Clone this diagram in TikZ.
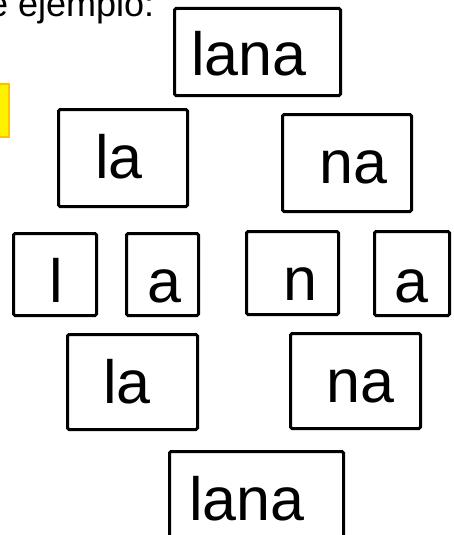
\documentclass[tikz,border=0pt]{standalone}
\usepackage{fontspec}
\setmainfont{Liberation Sans}
\definecolor{boxorange}{HTML}{FFC000}
\begin{document}
\begin{tikzpicture}[x=1pt,y=-1pt,
  wbox/.style={draw=black,line width=3pt,rounded corners=1.5pt,inner sep=0pt},
  bigtxt/.style={anchor=base west,inner sep=0pt,font=\fontsize{61}{64}\selectfont},
  toptxt/.style={anchor=base west,inner sep=0pt,font=\fontsize{36}{40}\selectfont}]
\useasboundingbox (0,0) rectangle (453,535);
% header text (partly cut off, as in the reference)
\node[toptxt] (hdr) at (-12,17) {e ejemplo:};
% yellow box at left edge (partly cut off)
\node[fill=yellow,draw=boxorange,line width=2pt,inner sep=0pt,minimum width=20pt,minimum height=53pt] (ybox) at (-1,110.5) {};
% boxes
\node[wbox,minimum width=166pt,minimum height=87pt] (b1) at (257.5,52) {};
\node[wbox,minimum width=129pt,minimum height=97pt] (b2) at (123,158) {};
\node[wbox,minimum width=129pt,minimum height=97pt] (b3) at (347,163) {};
\node[wbox,minimum width=83pt,minimum height=82pt] (b4) at (55,274.5) {};
\node[wbox,minimum width=72pt,minimum height=82pt] (b5) at (162.5,274.5) {};
\node[wbox,minimum width=92pt,minimum height=83pt] (b6) at (292.5,273) {};
\node[wbox,minimum width=75pt,minimum height=84pt] (b7) at (412,273.5) {};
\node[wbox,minimum width=130pt,minimum height=95pt] (b8) at (132.5,382) {};
\node[wbox,minimum width=130pt,minimum height=95pt] (b9) at (355.5,381) {};
\node[wbox,minimum width=174pt,minimum height=120pt] (b10) at (256.5,511.5) {};
% texts
\node[bigtxt] (t1) at (191,75) {lana};
\node[bigtxt] (t2) at (95,178) {la};
\node[bigtxt] (t3) at (319,183) {na};
\node[bigtxt] (t4) at (49,302) {l};
\node[bigtxt] (t5) at (147,302) {a};
\node[bigtxt] (t6) at (283,300) {n};
\node[bigtxt] (t7) at (394,302) {a};
\node[bigtxt] (t8) at (103,403) {la};
\node[bigtxt] (t9) at (326,402) {na};
\node[bigtxt] (t10) at (189,520) {lana};
\end{tikzpicture}
\end{document}
